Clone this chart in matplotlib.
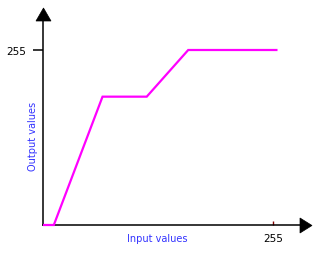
import matplotlib
matplotlib.use("Agg")
import matplotlib.pyplot as plt
from matplotlib.patches import Polygon

# Data
input_vals = [0, 12, 66, 115, 161, 260]
output_vals = [0, 0, 187, 187, 255, 255]
x_ticks = [255]
y_ticks = [255]
x_label = "Input values"
y_label = "Output values"

W, H = 323, 255
fig = plt.figure(figsize=(W / 100, H / 100), dpi=100)
fig.patch.set_facecolor("white")

def px(x, y):
    return (x / W, (H - y) / H)

left, right, bottom, top = 43, 300, 226, 22
ax = fig.add_axes([left / W, (H - bottom) / H, (right - left) / W, (bottom - top) / H])
ax.set_xlim(0, (right - left) * 255 / 230)
ax.set_ylim(0, (bottom - top) * 255 / 175)

ax.plot(input_vals, output_vals, color="#ff00ff", lw=1.6, solid_capstyle="butt",
        solid_joinstyle="miter", clip_on=False, zorder=3)

for s in ["top", "right"]:
    ax.spines[s].set_visible(False)
for s in ["left", "bottom"]:
    ax.spines[s].set_color("black")
    ax.spines[s].set_linewidth(1.1)

ax.set_yticks(y_ticks)
ax.set_yticklabels([str(v) for v in y_ticks])
ax.tick_params(axis="y", direction="out", length=7, width=1.1, color="black",
               labelsize=7.5, pad=5.5, labelcolor="black")
ax.set_xticks(x_ticks)
ax.set_xticklabels([str(v) for v in x_ticks])
ax.tick_params(axis="x", direction="in", length=3, width=1, color="#800000",
               labelsize=7.5, pad=5.5, labelcolor="black")

# arrowheads
up = Polygon([px(36, 22), px(51, 22), px(43.5, 9)], closed=True, transform=fig.transFigure,
             facecolor="black", edgecolor="black", lw=0.5)
rt = Polygon([px(300, 219), px(300, 234), px(312, 226.5)], closed=True, transform=fig.transFigure,
             facecolor="black", edgecolor="black", lw=0.5)
fig.patches.extend([up, rt])

fig.text(*px(127, 239), x_label, color="#3333ff", fontsize=7, ha="left", va="center")
fig.text(*px(33, 136), y_label, color="#3333ff", fontsize=7, ha="center", va="center",
         rotation=90)

fig.savefig("out.png", dpi=100, facecolor="white")
